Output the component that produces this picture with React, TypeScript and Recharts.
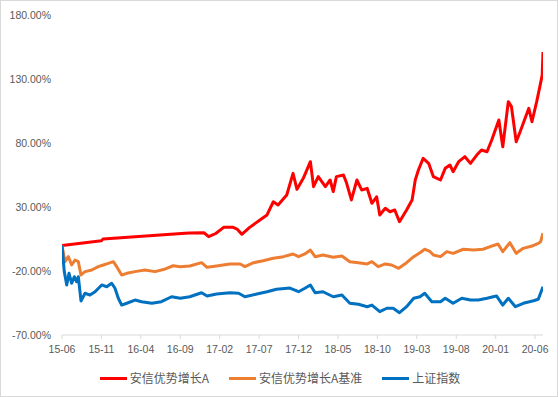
import { CartesianGrid, Line, LineChart, XAxis, YAxis } from "recharts";

// month offset from 2015-06
const xTicks = [0, 5, 10, 15, 20, 25, 30, 35, 40, 45, 50, 55, 60];
const xLabels = [
  "15-06", "15-11", "16-04", "16-09", "17-02", "17-07", "17-12",
  "18-05", "18-10", "19-03", "19-08", "20-01", "20-06",
];
const yTicks = [-70, -20, 30, 80, 130, 180];

const fundMonths = [
  0, 5.0, 5.2, 15.6, 16.2, 18.0, 18.6, 19.5, 20.5, 21.7, 22.2, 22.8, 23.8, 25.1,
  26.0, 26.8, 27.4, 28.5, 29.3, 29.8, 30.6, 31.5, 31.9, 32.5, 33.4, 34.0, 34.4,
  34.8, 35.7, 36.1, 36.7, 37.4, 38.0, 38.7, 39.3, 39.9, 40.3, 41.0, 41.6, 42.2,
  42.8, 43.7, 44.4, 44.8, 45.2, 45.8, 46.5, 47.1, 48.0, 48.6, 49.2, 49.6, 50.3,
  51.1, 51.8, 52.6, 53.2, 53.9, 54.5, 55.4, 55.9, 56.6, 57.0, 57.6, 58.1, 59.2,
  59.6, 60.2, 60.6, 60.9, 61.0,
];
const fundValues = [
  0, 3.7, 5.0, 9.5, 9.7, 9.9, 6.8, 9.3, 14.1, 14.1, 12.8, 8.7, 14.1, 19.8,
  23.8, 34.1, 31.6, 39.4, 56.3, 43.8, 52.4, 65.4, 45.9, 53.7, 45.9, 51.1, 42.0,
  53.7, 55.0, 48.5, 35.5, 51.1, 43.3, 44.6, 32.9, 38.0, 23.8, 29.0, 26.3, 27.7,
  18.5, 27.7, 35.5, 51.1, 58.9, 68.0, 64.1, 53.7, 51.1, 60.2, 62.8, 57.6, 65.4,
  69.3, 64.1, 70.6, 74.5, 73.2, 82.3, 98.0, 77.1, 112.3, 108.4, 81.0, 88.8, 107.1,
  96.6, 112.3, 124.0, 133.0, 151.0,
];

const benchMonths = [
  0, 0.38, 0.8, 1.23, 1.65, 2.07, 2.41, 2.92, 3.77, 4.6, 5.24, 5.87, 6.51, 6.94,
  7.57, 8.21, 9.26, 10.5, 11.8, 13.1, 14.1, 15.0, 16.2, 17.7, 18.4, 19.6, 21.3,
  22.6, 23.2, 24.3, 25.5, 26.8, 28.1, 29.3, 30.0, 30.8, 31.5, 32.1, 33.1, 34.4,
  35.5, 36.5, 37.6, 38.7, 39.3, 40.1, 41.0, 41.8, 42.7, 43.7, 44.6, 45.4, 46.0,
  46.7, 47.1, 48.0, 48.8, 49.6, 50.9, 52.2, 53.4, 54.3, 55.3, 55.9, 56.8, 57.6,
  58.5, 59.6, 60.4, 60.7, 61.0,
];
const benchValues = [
  0, -12.7, -8.8, -15.3, -11.4, -12.7, -23.1, -20.5, -19.2, -16.6, -15.3, -14.0,
  -12.7, -16.6, -23.1, -21.8, -20.5, -19.2, -20.5, -18.4, -15.9, -16.6, -16.1,
  -13.5, -17.1, -16.1, -14.5, -14.5, -16.6, -13.5, -12.0, -10.1, -8.8, -6.7,
  -8.8, -6.7, -3.6, -8.8, -7.5, -9.3, -8.3, -12.7, -13.5, -14.5, -12.7, -16.6,
  -14.5, -15.3, -17.9, -13.5, -8.8, -5.7, -3.0, -4.9, -7.5, -8.8, -4.9, -6.2,
  -3.0, -3.6, -3.0, -1.0, 1.1, -4.9, 2.1, -6.2, -2.3, -0.5, 1.6, 2.9, 9.5,
];

const indexMonths = [
  0, 0.29, 0.6, 0.89, 1.23, 1.56, 1.86, 2.07, 2.41, 2.92, 3.55, 4.19, 5.04, 5.67,
  6.3, 6.72, 7.14, 7.57, 8.21, 9.26, 10.1, 11.4, 12.6, 13.9, 15.0, 16.2, 17.7,
  18.4, 19.6, 21.3, 22.4, 23.2, 24.7, 26.0, 27.2, 28.9, 30.0, 30.8, 31.5, 32.1,
  33.1, 34.4, 35.5, 36.5, 37.6, 38.7, 39.3, 40.3, 41.2, 42.0, 42.8, 43.7, 44.6,
  45.4, 46.0, 46.9, 48.0, 48.6, 49.6, 50.7, 51.8, 52.8, 53.9, 55.1, 55.9, 56.6,
  57.5, 58.5, 59.8, 60.4, 61.0,
];
const indexValues = [
  0, -20.5, -30.9, -21.8, -29.6, -24.5, -28.4, -24.5, -43.4, -37.4, -38.8, -36.2,
  -30.9, -32.3, -29.6, -33.5, -41.3, -46.6, -45.2, -42.7, -44.0, -45.2, -44.0,
  -40.1, -41.3, -40.1, -37.0, -39.5, -38.0, -37.0, -37.4, -40.1, -38.0, -36.2,
  -34.3, -33.3, -36.2, -33.5, -30.9, -37.0, -36.2, -40.1, -38.8, -45.2, -46.0,
  -47.9, -46.6, -51.8, -49.1, -49.1, -52.6, -47.9, -41.3, -40.1, -37.4, -44.0,
  -44.0, -41.3, -45.2, -41.3, -42.7, -42.7, -41.3, -39.5, -46.6, -41.3, -47.9,
  -45.2, -43.2, -42.1, -32.3,
];

const series = [
  { name: "安信优势增长A", color: "#FF0000", months: fundMonths, values: fundValues },
  { name: "安信优势增长A基准", color: "#ED7D31", months: benchMonths, values: benchValues },
  { name: "上证指数", color: "#0070C0", months: indexMonths, values: indexValues },
];

const tickStyle = { fill: "#595959", fontSize: 10.5, fontFamily: "Liberation Sans, Arial" };

export default function App() {
  return (
    <div
      style={{
        position: "absolute",
        left: 0,
        top: 0,
        width: 558,
        height: 397,
        border: "1px solid #d9d9d9",
        boxSizing: "border-box",
        background: "#fff",
      }}
    >
      <div style={{ position: "absolute", left: -1, top: -1 }}>
        <LineChart
          width={558}
          height={397}
          margin={{ top: 15, right: 15, bottom: 32, left: 0 }}
        >
          <CartesianGrid horizontal={false} vertical={false} />
          <XAxis
            type="number"
            dataKey="m"
            domain={[0, 61]}
            ticks={xTicks}
            tickFormatter={(v) => xLabels[xTicks.indexOf(v)] ?? ""}
            stroke="#d9d9d9"
            tick={tickStyle}
            tickSize={4}
            tickMargin={7}
            height={30}
            interval={0}
            allowDataOverflow
          />
          <YAxis
            type="number"
            domain={[-70, 180]}
            ticks={yTicks}
            tickFormatter={(v) => v.toFixed(2) + "%"}
            axisLine={false}
            tickLine={false}
            tick={tickStyle}
            tickSize={6}
            tickMargin={5}
            width={62}
            interval={0}
          />
          {series.map((s) => (
            <Line
              key={s.name}
              data={s.months.map((m, i) => ({ m, v: s.values[i] }))}
              dataKey="v"
              name={s.name}
              type="linear"
              stroke={s.color}
              strokeWidth={3}
              strokeLinejoin="round"
              dot={false}
              activeDot={false}
              isAnimationActive={false}
            />
          ))}
        </LineChart>
      </div>
      <div
        style={{
          position: "absolute",
          left: 0,
          width: 558,
          top: 368,
          display: "flex",
          justifyContent: "center",
          gap: 20,
          fontFamily: "Noto Sans CJK SC",
          fontSize: 12,
          color: "#595959",
          lineHeight: "18px",
        }}
      >
        {series.map((s) => (
          <div key={s.name} style={{ display: "flex", alignItems: "center" }}>
            <span
              style={{
                display: "inline-block",
                width: 27,
                height: 3,
                background: s.color,
                marginRight: 3,
              }}
            />
            <span>{s.name}</span>
          </div>
        ))}
      </div>
    </div>
  );
}
